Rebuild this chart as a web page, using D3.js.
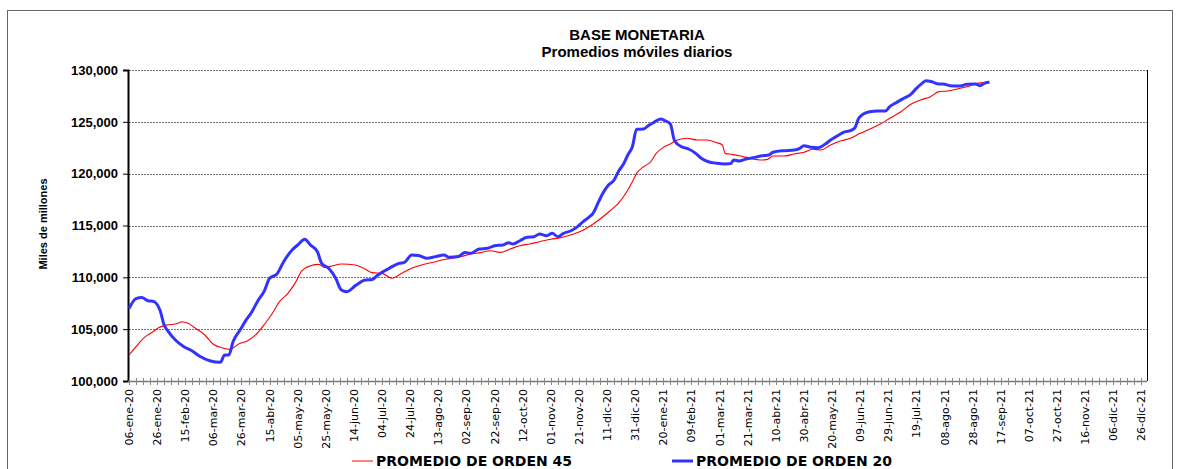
<!DOCTYPE html>
<html>
<head>
<meta charset="utf-8">
<script src="https://cdn.jsdelivr.net/npm/d3@7"></script>
<style>
body { margin: 0; background: #fff; }
svg { display: block; }
</style>
</head>
<body>
<svg width="1179" height="469"></svg>
<script>
// promedio de orden 20 (azul)
var blueDates = ["2020-01-06","2020-01-11","2020-01-15","2020-01-20","2020-01-23","2020-01-28","2020-01-31","2020-02-03","2020-02-08","2020-02-14","2020-02-20","2020-02-25","2020-03-04","2020-03-11","2020-03-14","2020-03-17","2020-03-20","2020-03-25","2020-03-29","2020-04-02","2020-04-07","2020-04-11","2020-04-15","2020-04-20","2020-04-25","2020-05-01","2020-05-05","2020-05-10","2020-05-14","2020-05-19","2020-05-22","2020-05-27","2020-06-01","2020-06-05","2020-06-09","2020-06-15","2020-06-22","2020-06-27","2020-07-01","2020-07-09","2020-07-16","2020-07-20","2020-07-25","2020-07-30","2020-08-05","2020-08-11","2020-08-17","2020-08-21","2020-08-27","2020-09-01","2020-09-05","2020-09-11","2020-09-17","2020-09-22","2020-09-28","2020-10-02","2020-10-05","2020-10-10","2020-10-15","2020-10-20","2020-10-24","2020-10-29","2020-11-02","2020-11-06","2020-11-10","2020-11-15","2020-11-20","2020-11-24","2020-11-28","2020-12-01","2020-12-05","2020-12-08","2020-12-12","2020-12-16","2020-12-19","2020-12-23","2020-12-26","2020-12-29","2021-01-01","2021-01-06","2021-01-09","2021-01-13","2021-01-18","2021-01-21","2021-01-25","2021-01-28","2021-02-02","2021-02-07","2021-02-12","2021-02-16","2021-02-21","2021-02-27","2021-03-05","2021-03-09","2021-03-11","2021-03-15","2021-03-19","2021-03-25","2021-03-31","2021-04-05","2021-04-08","2021-04-16","2021-04-23","2021-04-27","2021-04-30","2021-05-05","2021-05-10","2021-05-15","2021-05-19","2021-05-24","2021-05-28","2021-06-02","2021-06-05","2021-06-08","2021-06-11","2021-06-16","2021-06-21","2021-06-27","2021-06-30","2021-07-05","2021-07-10","2021-07-15","2021-07-19","2021-07-23","2021-07-26","2021-07-30","2021-08-04","2021-08-07","2021-08-12","2021-08-19","2021-08-24","2021-08-30","2021-09-02","2021-09-06","2021-09-09"];
var blueValues = [107000,107950,108050,107720,107700,106850,105400,104760,103950,103310,102900,102410,101930,101800,102510,102500,103790,104920,105820,106590,107810,108620,109910,110290,111510,112640,113120,113670,113120,112470,111350,110870,109910,108780,108620,109200,109740,109800,110230,110870,111350,111450,112150,112100,111840,112000,112150,111930,112000,112400,112320,112730,112800,113050,113120,113340,113210,113530,113860,113920,114180,114020,114250,113920,114250,114470,114890,115370,115790,116180,117300,118110,118910,119390,120190,121000,121870,122600,124280,124310,124600,124920,125270,125120,124790,123180,122600,122380,121960,121480,121150,121000,120940,120980,121320,121220,121380,121540,121730,121800,122060,122220,122280,122440,122700,122540,122500,122830,123250,123660,123990,124150,124380,125340,125730,125980,126050,126050,126460,126880,127270,127650,128230,128710,128970,128870,128650,128650,128490,128450,128620,128650,128490,128750,128810];

// promedio de orden 45 (rojo)
var redDates = ["2020-01-06","2020-01-12","2020-01-17","2020-01-22","2020-01-27","2020-02-02","2020-02-08","2020-02-13","2020-02-17","2020-02-23","2020-02-29","2020-03-06","2020-03-12","2020-03-18","2020-03-24","2020-03-30","2020-04-05","2020-04-11","2020-04-17","2020-04-22","2020-04-28","2020-05-03","2020-05-08","2020-05-14","2020-05-20","2020-05-24","2020-05-30","2020-06-05","2020-06-15","2020-06-21","2020-06-27","2020-07-04","2020-07-11","2020-07-18","2020-07-25","2020-08-01","2020-08-11","2020-08-18","2020-08-25","2020-08-29","2020-09-05","2020-09-12","2020-09-19","2020-09-26","2020-10-03","2020-10-10","2020-10-17","2020-10-24","2020-11-01","2020-11-08","2020-11-15","2020-11-22","2020-11-29","2020-12-06","2020-12-13","2020-12-19","2020-12-25","2020-12-29","2021-01-01","2021-01-06","2021-01-11","2021-01-15","2021-01-20","2021-01-25","2021-01-30","2021-02-06","2021-02-13","2021-02-20","2021-02-27","2021-03-03","2021-03-05","2021-03-10","2021-03-16","2021-03-23","2021-03-30","2021-04-04","2021-04-08","2021-04-16","2021-04-23","2021-04-30","2021-05-06","2021-05-12","2021-05-19","2021-05-26","2021-06-02","2021-06-09","2021-06-16","2021-06-23","2021-06-30","2021-07-08","2021-07-15","2021-07-22","2021-07-29","2021-08-04","2021-08-10","2021-08-17","2021-08-24","2021-08-31","2021-09-07"];
var redValues = [102510,103470,104210,104660,105140,105400,105500,105720,105560,105020,104440,103540,103210,103050,103570,103860,104440,105400,106530,107650,108460,109420,110640,111120,111250,110960,111120,111290,111190,110870,110450,110380,109910,110390,110870,111190,111510,111740,111900,111990,112250,112380,112570,112410,112730,113050,113220,113440,113670,113820,114080,114410,114950,115630,116400,117140,118260,119230,120030,120670,121150,121960,122540,122860,123250,123410,123250,123250,122990,122770,121960,121860,121700,121480,121320,121380,121700,121700,121900,122060,122350,122280,122770,123150,123410,123890,124310,124760,125340,125980,126690,127110,127430,127910,127980,128170,128390,128710,128810];

var yTicks = [100000,105000,110000,115000,120000,125000,130000];
var monthNames = ["ene","feb","mar","abr","may","jun","jul","ago","sep","oct","nov","dic"];
var legendLabels = ["PROMEDIO DE ORDEN 45", "PROMEDIO DE ORDEN 20"];
var lineColors = ["#ff0000", "#3333ff"];

var parseDate = d3.utcParse("%Y-%m-%d");
var startDate = parseDate("2020-01-06");
var endDate = parseDate("2021-12-30");

var svg = d3.select("svg");

// marco exterior
svg.append("rect")
    .attr("x", 7.5).attr("y", 10.5)
    .attr("width", 1165).attr("height", 470)
    .attr("fill", "none")
    .attr("stroke", "#666");

var x = d3.scaleUtc().domain([startDate, endDate]).range([129, 1147]);
var y = d3.scaleLinear().domain([100000, 130000]).range([381, 70]);

function fmtDate(d) {
    return d3.utcFormat("%d")(d) + "-" + monthNames[d.getUTCMonth()] + "-" + d3.utcFormat("%y")(d);
}

// titulo
svg.append("text")
    .attr("x", 637).attr("y", 40)
    .attr("text-anchor", "middle")
    .style("font", "bold 15px 'Liberation Sans', Arial, sans-serif")
    .text("BASE MONETARIA");
svg.append("text")
    .attr("x", 637).attr("y", 57)
    .attr("text-anchor", "middle")
    .style("font", "bold 15px 'Liberation Sans', Arial, sans-serif")
    .text("Promedios móviles diarios");

// rejilla
svg.append("g").selectAll("line")
    .data(yTicks.slice(1))
    .enter().append("line")
    .attr("x1", 129).attr("x2", 1147)
    .attr("y1", function(d){ return Math.round(y(d)) + 0.5; })
    .attr("y2", function(d){ return Math.round(y(d)) + 0.5; })
    .attr("stroke", "#777")
    .attr("stroke-width", 1)
    .attr("stroke-dasharray", "2,1");

// borde derecho del area
svg.append("line")
    .attr("x1", 1147.5).attr("x2", 1147.5)
    .attr("y1", 70).attr("y2", 381)
    .attr("stroke", "#000");

// eje y
var yAxis = d3.axisLeft(y)
    .tickValues(yTicks)
    .tickSize(5)
    .tickFormat(d3.format(","));
var gy = svg.append("g")
    .attr("transform", "translate(128,0)")
    .call(yAxis);
gy.select(".domain").attr("stroke-width", 2).attr("stroke", "#000");
gy.selectAll("text")
    .attr("x", -10)
    .style("font", "bold 13px 'Liberation Sans', Arial, sans-serif")
    .attr("fill", "#000");

svg.append("text")
    .attr("transform", "translate(47,224) rotate(-90)")
    .attr("text-anchor", "middle")
    .style("font", "bold 11px 'Liberation Sans', Arial, sans-serif")
    .text("Miles de millones");

// eje x: marcas menores cada 5 dias, etiquetas cada 20
var minorTicks = d3.range(0, 725, 5).map(function(i){ return d3.utcDay.offset(startDate, i); });
var majorTicks = d3.range(0, 721, 20).map(function(i){ return d3.utcDay.offset(startDate, i); });

svg.append("line")
    .attr("x1", 128).attr("x2", 1147)
    .attr("y1", 381.5).attr("y2", 381.5)
    .attr("stroke", "#777").attr("stroke-width", 1.5);

svg.append("g").selectAll("line")
    .data(minorTicks)
    .enter().append("line")
    .attr("x1", function(d){ return Math.round(x(d)) + 0.5; })
    .attr("x2", function(d){ return Math.round(x(d)) + 0.5; })
    .attr("y1", 378).attr("y2", 385)
    .attr("stroke", "#888");

svg.append("g").selectAll("text")
    .data(majorTicks)
    .enter().append("text")
    .attr("transform", function(d){ return "translate(" + (x(d) + 4) + ",389) rotate(-90)"; })
    .attr("text-anchor", "end")
    .style("font", "11px 'DejaVu Sans', Verdana, sans-serif")
    .attr("fill", "#000")
    .text(fmtDate);

// series
var line = d3.line()
    .x(function(d){ return x(d[0]); })
    .y(function(d){ return y(d[1]); })
    .curve(d3.curveMonotoneX);

var redData = redDates.map(function(d, i){ return [parseDate(d), redValues[i]]; });
var blueData = blueDates.map(function(d, i){ return [parseDate(d), blueValues[i]]; });

svg.append("path")
    .datum(redData)
    .attr("d", line)
    .attr("fill", "none")
    .attr("stroke", lineColors[0])
    .attr("stroke-width", 1.1);

svg.append("path")
    .datum(blueData)
    .attr("d", line)
    .attr("fill", "none")
    .attr("stroke", lineColors[1])
    .attr("stroke-width", 3)
    .attr("stroke-linejoin", "round");

// leyenda
var legendX = [352, 672];
var legendW = [1, 3];
legendLabels.forEach(function(lbl, i){
    svg.append("line")
        .attr("x1", legendX[i]).attr("x2", legendX[i] + 21)
        .attr("y1", 461).attr("y2", 461)
        .attr("stroke", lineColors[i])
        .attr("stroke-width", legendW[i]);
    svg.append("text")
        .attr("x", legendX[i] + 24).attr("y", 466)
        .style("font", "bold 14px 'DejaVu Sans', Verdana, sans-serif")
        .attr("fill", "#000")
        .text(lbl);
});
</script>
</body>
</html>
